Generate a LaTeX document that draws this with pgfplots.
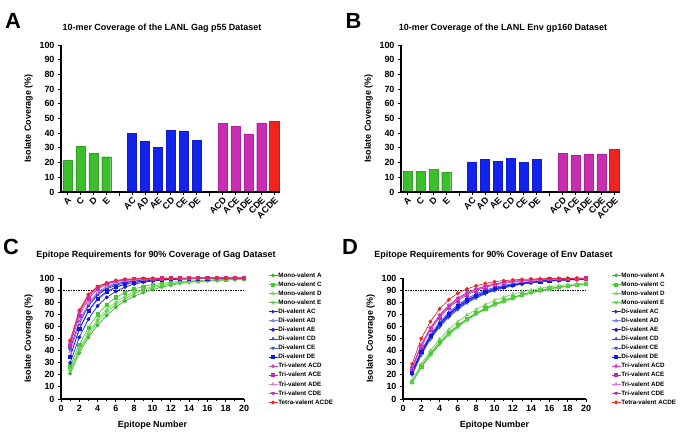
\documentclass[border=0pt]{standalone}
\usepackage{pgfplots}
\pgfplotsset{compat=1.18}
\usepackage{pgfplotstable}
\usepackage{fontspec}
\setmainfont{Liberation Sans}

\definecolor{barg}{RGB}{60,190,45}
\definecolor{barb}{RGB}{20,35,235}
\definecolor{barm}{RGB}{200,45,180}
\definecolor{barr}{RGB}{240,35,30}
\definecolor{gA}{RGB}{60,180,40}
\definecolor{gC}{RGB}{70,200,50}
\definecolor{gD}{RGB}{120,210,90}
\definecolor{gE}{RGB}{90,210,70}
\definecolor{bAC}{RGB}{30,40,210}
\definecolor{bAD}{RGB}{120,135,240}
\definecolor{bAE}{RGB}{20,30,220}
\definecolor{bCD}{RGB}{50,70,230}
\definecolor{bCE}{RGB}{60,80,220}
\definecolor{bDE}{RGB}{15,25,235}
\definecolor{mACD}{RGB}{215,70,200}
\definecolor{mACE}{RGB}{200,40,180}
\definecolor{mADE}{RGB}{230,120,215}
\definecolor{mCDE}{RGB}{190,50,200}
\definecolor{rq}{RGB}{235,40,40}

% Gag dataset (panel C)
\pgfplotstableread{
x mA mC mD mE AC AD AE CD CE DE ACD ACE ADE CDE ACDE
1 21 27 25 23 40 35 30 42 41 35 46 44 39 47 48.5
2 38 45 42 40 62 57 51 64 63 58 71 69 63 72 73.5
3 51 59 55 53 77 72 66 79 78 73 85 83 79 86 86.5
4 61 70 66 64 86 82 77 88 87 83 92 91 88 93 93
5 69 78 74 72 91 88 84 93 92 89 95.5 95 93 96 96
6 76 84 80 78 94 92 89 95.5 95 92.5 97.5 97 96 97.8 98
7 81 88 85 83 96 94.5 92.5 97 96.8 95 98.5 98.3 97.5 98.7 99
8 85 91 88.5 87 97.5 96 95 98 97.8 96.5 99 99 98.5 99.2 99.3
9 88 93 91 90 98.3 97 96.5 98.6 98.5 97.5 99.4 99.3 99 99.5 99.6
10 90.5 94.5 93 92 98.8 97.8 97.5 99 99 98.2 99.6 99.5 99.3 99.7 99.7
11 92.5 95.5 94.5 93.5 99.1 98.4 98.2 99.3 99.3 98.7 99.7 99.7 99.5 99.8 99.8
12 94 96.5 95.5 95 99.3 98.8 98.7 99.5 99.5 99 99.8 99.8 99.7 99.8 99.9
13 95.5 97 96.5 96 99.5 99.1 99 99.6 99.6 99.3 99.8 99.8 99.8 99.9 99.9
14 96.5 97.5 97 96.8 99.6 99.3 99.3 99.7 99.7 99.5 99.9 99.9 99.8 99.9 99.9
15 97 98 97.5 97.3 99.7 99.5 99.5 99.8 99.8 99.6 99.9 99.9 99.9 99.9 100
16 97.5 98.3 98 97.8 99.8 99.6 99.6 99.8 99.8 99.7 99.9 99.9 99.9 100 100
17 98 98.6 98.3 98.2 99.8 99.7 99.7 99.9 99.9 99.8 100 100 99.9 100 100
18 98.3 98.8 98.6 98.5 99.9 99.8 99.8 99.9 99.9 99.8 100 100 100 100 100
19 98.6 99 98.8 98.8 99.9 99.8 99.8 99.9 99.9 99.9 100 100 100 100 100
20 98.8 99.1 99 99 99.9 99.9 99.9 100 100 99.9 100 100 100 100 100
}\gagtable

% Env dataset (panel D)
\pgfplotstableread{
x mA mC mD mE AC AD AE CD CE DE ACD ACE ADE CDE ACDE
1 14 14 15.5 13.5 20.5 22 21 23 20 22 26.5 25 26 26 29
2 27 27 29 26 37 39 38 40 36.5 39 45 43 44 44.5 50
3 37 38 40 36 50 52 51 53 49.5 52 59 57 58 58.5 64
4 46 47 49.5 45 60 62.5 61 63.5 59.5 62 69.5 67.5 68.5 69 74.5
5 54 55 57.5 53 68.5 70.5 69.5 71.5 67.5 70 77.5 75.5 76.5 77 82
6 60 61 64 59.5 75 77 76 78 74 76.5 83.5 81.5 82.5 83 87.5
7 66 66.5 69.5 65 80 82 81 83 79.5 81.5 88 86 87 87.5 91
8 70.5 71 74 70 84 86 85 87 83.5 85.5 91 89.6 90.3 90.7 93.5
9 74.5 75 78 74 87.3 89 88 90 87 88.6 93.5 92.2 92.8 93.2 95.5
10 78 78.5 81.5 77.5 90 91.3 90.6 92.2 89.7 91 95.2 94.2 94.7 95 97
11 81 81.5 84 80.5 92 93.2 92.6 94 91.8 93 96.5 95.6 96 96.3 97.8
12 84 84 86.5 83 93.7 94.7 94.2 95.3 93.5 94.5 97.4 96.7 97 97.2 98.4
13 86 86.5 88.5 85.5 95 95.8 95.4 96.3 94.9 95.7 98 97.5 97.8 97.9 98.9
14 88 88.5 90 87.5 96 96.7 96.3 97.1 96 96.6 98.5 98.1 98.3 98.4 99.2
15 89.5 90 91.5 89.3 96.8 97.4 97.1 97.8 96.8 97.3 98.9 98.6 98.8 98.8 99.4
16 91 91.5 92.7 90.8 97.5 97.9 97.7 98.2 97.4 97.9 99.2 99 99.1 99.1 99.6
17 92.3 92.5 93.7 92 98 98.3 98.2 98.6 97.9 98.3 99.4 99.2 99.3 99.4 99.7
18 93.3 93.5 94.6 93 98.4 98.7 98.6 98.9 98.3 98.7 99.6 99.4 99.5 99.5 99.8
19 94.2 94.5 95.3 94 98.7 99 98.9 99.1 98.7 99 99.7 99.6 99.6 99.7 99.9
20 95 95 96 94.8 99 99.2 99.1 99.3 99 99.2 99.8 99.7 99.7 99.8 99.9
}\envtable

\newcommand{\tl}{\fontsize{9}{10}\selectfont\bfseries}

\pgfplotsset{
  panel/.style={
    scale only axis,
    axis x line*=bottom, axis y line*=left,
    ymin=0, ymax=100, ytick={0,10,...,100},
    tick align=outside,
    tick label style={font=\tl},
    label style={font=\tl},
    axis line style={line width=1.1bp},
    major tick length=3bp, minor tick length=2bp,
    every tick/.style={black, line width=0.9bp},
    clip=false,
    /pgf/number format/assume math mode=true,
    ylabel={Isolate Coverage (\%)},
  },
  barpanel/.style={panel,
    axis on top,
    width=219bp, height=147bp,
    xmin=-0.5, xmax=16.45,
    xtick={0,1,2,3,5,6,7,8,9,10,12,13,14,15,16},
    xticklabels={A,C,D,E,AC,AD,AE,CD,CE,DE,ACD,ACE,ADE,CDE,ACDE},
    x tick label style={rotate=45, anchor=north east, inner sep=1pt},
    extra x ticks={4,11}, extra x tick labels={},
    extra x tick style={major tick length=3.5bp},
  },
  curvepanel/.style={panel,
    width=183bp, height=121bp,
    xmin=0, xmax=20, xtick={0,2,...,20}, minor x tick num=1,
    xlabel={Epitope Number},
    xlabel style={yshift=-2bp},
    legend cell align=left,
    legend style={draw=none, fill=none, inner sep=0pt, row sep=2.6bp,
      font=\fontsize{6.3}{7}\selectfont\bfseries,
      nodes={inner sep=0.5pt, text height=4.5pt, text depth=1pt}},
    legend image code/.code={\draw[mark repeat=2,mark phase=2,line width=0.7pt] plot coordinates {(0bp,0bp) (4.5bp,0bp) (9bp,0bp)};},
  },
  ser/.style={line width=0.7pt, mark size=1.6pt},
}

\newcommand{\bars}[4]{%
\addplot[ybar, bar width=0.7, bar shift=0pt, fill=barg, draw=barg!85!black, line width=0.4pt] coordinates {#1};
\addplot[ybar, bar width=0.7, bar shift=0pt, fill=barb, draw=barb!85!black, line width=0.4pt] coordinates {#2};
\addplot[ybar, bar width=0.7, bar shift=0pt, fill=barm, draw=barm!85!black, line width=0.4pt] coordinates {#3};
\addplot[ybar, bar width=0.7, bar shift=0pt, fill=barr, draw=barr!85!black, line width=0.4pt] coordinates {#4};
}

\newcommand{\curves}[1]{%
\addplot[black, line width=0.6pt, dash pattern=on 1.5pt off 1pt, forget plot] coordinates {(0,90) (20,90)};
\addplot[ser, gA, mark=*] table[x=x,y=mA]{#1};
\addplot[ser, gC, mark=square*] table[x=x,y=mC]{#1};
\addplot[ser, gD, mark=triangle*] table[x=x,y=mD]{#1};
\addplot[ser, gE, mark=triangle*, mark options={rotate=180}] table[x=x,y=mE]{#1};
\addplot[ser, bAC, mark=triangle*, mark options={rotate=270}] table[x=x,y=AC]{#1};
\addplot[ser, bAD, mark=triangle*] table[x=x,y=AD]{#1};
\addplot[ser, bAE, mark=*] table[x=x,y=AE]{#1};
\addplot[ser, bCD, mark=triangle*] table[x=x,y=CD]{#1};
\addplot[ser, bCE, mark=triangle*, mark options={rotate=180}] table[x=x,y=CE]{#1};
\addplot[ser, bDE, mark=square*] table[x=x,y=DE]{#1};
\addplot[ser, mACD, mark=*] table[x=x,y=ACD]{#1};
\addplot[ser, mACE, mark=square*] table[x=x,y=ACE]{#1};
\addplot[ser, mADE, mark=triangle*] table[x=x,y=ADE]{#1};
\addplot[ser, mCDE, mark=triangle*, mark options={rotate=180}] table[x=x,y=CDE]{#1};
\addplot[ser, rq, mark=*] table[x=x,y=ACDE]{#1};
\legend{Mono-valent A, Mono-valent C, Mono-valent D, Mono-valent E,
Di-valent AC, Di-valent AD, Di-valent AE, Di-valent CD, Di-valent CE, Di-valent DE,
Tri-valent ACD, Tri-valent ACE, Tri-valent ADE, Tri-valent CDE, Tetra-valent ACDE}
}

\begin{document}
\begin{tikzpicture}
\path[use as bounding box] (0,0) rectangle (685bp,-441bp);

% Panel A
\begin{axis}[barpanel, at={(61bp,-192bp)}, anchor=south west]
\bars{(0,21.5) (1,31) (2,26.5) (3,24)}
{(5,40) (6,34.5) (7,30.5) (8,42) (9,41.5) (10,35)}
{(12,46.5) (13,44.5) (14,39.5) (15,47)}
{(16,48.5)}
\end{axis}

% Panel B
\begin{axis}[barpanel, at={(401bp,-192bp)}, anchor=south west]
\bars{(0,14) (1,14) (2,15.5) (3,13.5)}
{(5,20.5) (6,22) (7,21) (8,23) (9,20) (10,22)}
{(12,26.5) (13,25) (14,26) (15,26)}
{(16,29)}
\end{axis}

% Panel C
\begin{axis}[curvepanel, at={(61bp,-399bp)}, anchor=south west,
  legend style={at={(1.131,1.05)}, anchor=north west}]
\curves{\gagtable}
\end{axis}

% Panel D
\begin{axis}[curvepanel, at={(403bp,-399bp)}, anchor=south west,
  legend style={at={(1.137,1.05)}, anchor=north west}]
\curves{\envtable}
\end{axis}

\node[font=\fontsize{22}{22}\selectfont\bfseries] at (13bp,-21bp) {A};
\node[font=\fontsize{22}{22}\selectfont\bfseries] at (353.5bp,-20.5bp) {B};
\node[font=\fontsize{22}{22}\selectfont\bfseries] at (11bp,-247bp) {C};
\node[font=\fontsize{22}{22}\selectfont\bfseries] at (350bp,-247bp) {D};

\node[font=\fontsize{9}{10}\selectfont\bfseries] at (162bp,-28.5bp) {10-mer Coverage of the LANL Gag p55 Dataset};
\node[font=\fontsize{9}{10}\selectfont\bfseries] at (503bp,-28.5bp) {10-mer Coverage of the LANL Env gp160 Dataset};
\node[font=\fontsize{9}{10}\selectfont\bfseries] at (156bp,-255bp) {Epitope Requirements for 90\% Coverage of Gag Dataset};
\node[font=\fontsize{9}{10}\selectfont\bfseries] at (493.5bp,-255bp) {Epitope Requirements for 90\% Coverage of Env Dataset};
\end{tikzpicture}
\end{document}
